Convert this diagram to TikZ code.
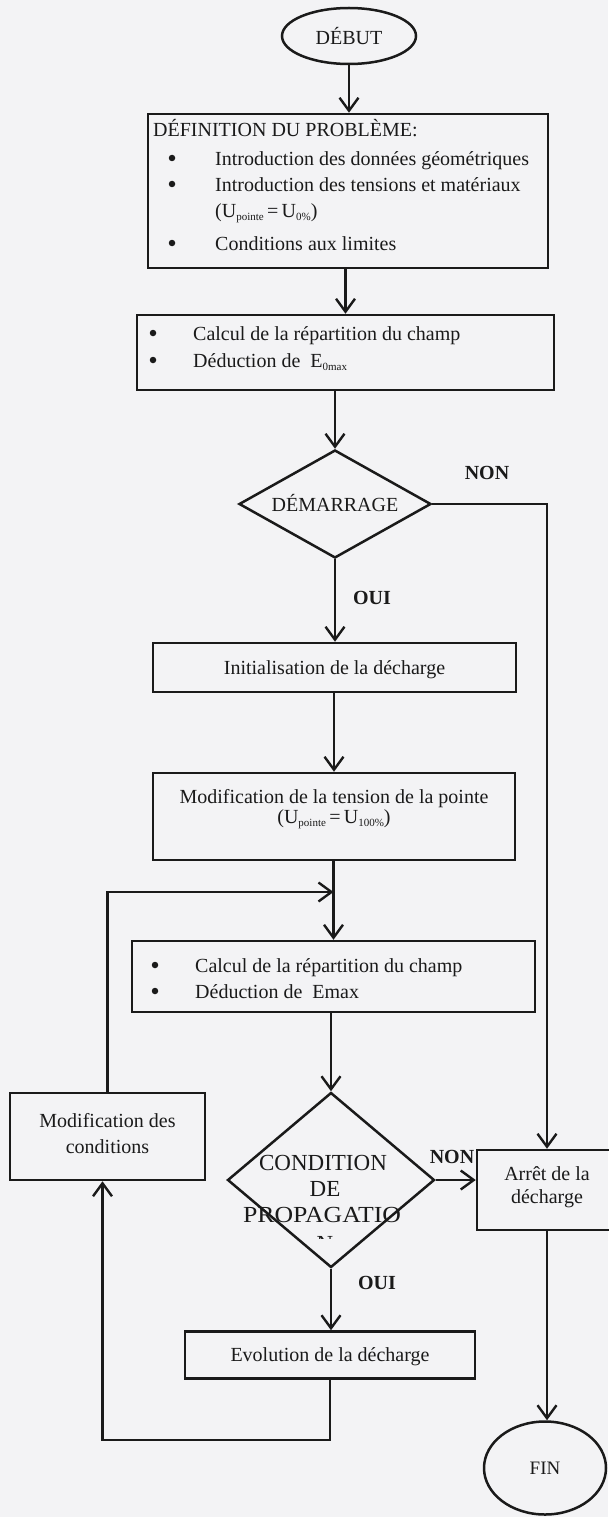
\documentclass[tikz,border=0pt]{standalone}
\usepackage{fontspec}
\setmainfont{Liberation Serif}
\usetikzlibrary{shapes.geometric,arrows.meta}
\definecolor{ink}{RGB}{26,26,26}
\definecolor{paper}{RGB}{243,243,245}
% small lowered index, as in U_pointe
\newcommand{\sbs}[1]{\raisebox{-0.35ex}{\fontsize{11}{11}\selectfont #1}}

\begin{document}
\fontsize{20}{26}\selectfont
\begin{tikzpicture}[x=1pt,y=-1pt,
  box/.style={draw=ink,line width=2.5pt,rectangle,inner sep=0pt},
  oval/.style={draw=ink,line width=2.5pt,ellipse,inner sep=0pt,text=ink},
  choice/.style={draw=ink,line width=2.5pt,diamond,inner sep=0pt},
  flow/.style={draw=ink,line width=2.4pt,-{Straight Barb[length=13pt,width=19pt]}},
  txt/.style={text=ink,inner sep=0pt,anchor=base west},
  ctxt/.style={text=ink,inner sep=0pt,anchor=base},
  dot/.style={circle,fill=ink,inner sep=0pt,minimum size=6.5pt},
  lbl/.style={text=ink,inner sep=0pt,font=\bfseries}]

\fill[paper] (0,0) rectangle (608,1517);
\useasboundingbox (0,0) rectangle (608,1517);

% start
\node[oval,minimum width=134pt,minimum height=56pt] (debut) at (349,36) {DÉBUT};

% problem definition
\node[box,minimum width=400pt,minimum height=154pt] (pb) at (348,191) {};
\node[txt] (pbT) at (153,137) {DÉFINITION DU PROBLÈME:};
\node[dot] (pbB1) at (172,158) {};
\node[txt] (pb1) at (215,166) {Introduction des données géométriques};
\node[dot] (pbB2) at (172,184) {};
\node[txt] (pb2) at (215,192) {Introduction des tensions et matériaux};
\node[txt] (pb3) at (215,217) {(U\sbs{pointe}\,=\,U\sbs{0\%})};
\node[dot] (pbB4) at (172,243) {};
\node[txt] (pb4) at (215,250) {Conditions aux limites};

% first field computation
\node[box,minimum width=417pt,minimum height=75pt] (calc1) at (345.5,352.5) {};
\node[dot] (c1B1) at (153,333) {};
\node[txt] (c1a) at (193,340) {Calcul de la répartition du champ};
\node[dot] (c1B2) at (153,360) {};
\node[txt] (c1b) at (193,367) {Déduction de\ \ E\sbs{0max}};

% start-up test
\node[choice,minimum width=192pt,minimum height=108pt] (dem) at (335,504) {};
\node[ctxt] (demT) at (335,511) {DÉMARRAGE};
\node[lbl] (non1) at (487,473) {NON};
\node[lbl] (oui1) at (372,598) {OUI};

% initialisation
\node[box,minimum width=363pt,minimum height=49pt] (init) at (334.5,667.5) {};
\node[ctxt] (initT) at (334.5,674) {Initialisation de la décharge};

% tip voltage
\node[box,minimum width=362pt,minimum height=87pt] (tens) at (334,816.5) {};
\node[ctxt] (tensA) at (334,803) {Modification de la tension de la pointe};
\node[ctxt] (tensB) at (334,823) {(U\sbs{pointe}\,=\,U\sbs{100\%})};

% second field computation
\node[box,minimum width=403pt,minimum height=71pt] (calc2) at (333.5,976.5) {};
\node[dot] (c2B1) at (155,965) {};
\node[txt] (c2a) at (195,972) {Calcul de la répartition du champ};
\node[dot] (c2B2) at (155,991) {};
\node[txt] (c2b) at (195,998) {Déduction de\ \ Emax};

% change of conditions
\node[box,minimum width=195pt,minimum height=87pt] (modif) at (107.5,1136.5) {};
\node[ctxt] (modifA) at (107.5,1127) {Modification des};
\node[ctxt] (modifB) at (107.5,1153) {conditions};

% propagation test
\node[choice,minimum width=207pt,minimum height=175pt] (prop) at (331,1180) {};
\begin{scope}[font=\fontsize{23}{27}\selectfont]
\node[ctxt] (propA) at (323,1170) {CONDITION};
\node[ctxt] (propB) at (325,1196) {DE};
\node[ctxt] (propC) at (322,1222) {\scalebox{1.12}[1]{PROPAGATIO}};
\begin{scope}
\clip (280,1215) rectangle (380,1238);
\node[ctxt] (propD) at (325,1251) {N};
\end{scope}
\end{scope}
\node[lbl] (non2) at (452,1157) {NON};
\node[lbl] (oui2) at (377,1283) {OUI};

% stop
\node[box,minimum width=140pt,minimum height=80pt] (arret) at (547,1190) {};
\node[ctxt] (arretA) at (547,1180) {Arrêt de la};
\node[ctxt] (arretB) at (547,1203) {décharge};

% evolution
\node[box,minimum width=290pt,minimum height=47pt] (evo) at (330,1355) {};
\node[ctxt] (evoT) at (330,1361) {Evolution de la décharge};

% end
\node[oval,minimum width=122pt,minimum height=93pt,font=\fontsize{19}{22}\selectfont] (fin) at (545,1468) {FIN};

% connectors
\coordinate (yfb) at (0,892);
\coordinate (yloop) at (0,1440);
\coordinate (join) at (calc2.north |- yfb);
\coordinate (mfoot) at ([xshift=-5pt]modif.south);
\coordinate (loopL) at (mfoot |- yloop);

\draw[flow] (debut.south) -- (debut.south |- pb.north);
\draw[flow] (pb.south -| calc1.north) -- (calc1.north);
\draw[flow] (calc1.south -| dem.north) -- (dem.north);
\draw[flow] (dem.south) -- (dem.south |- init.north);
\draw[flow] (init.south -| tens.north) -- (tens.north);
\draw[flow] (tens.south -| calc2.north) -- (calc2.north);
\draw[flow] (modif.north) |- (join);
\draw[flow] (calc2.south -| prop.north) -- (prop.north);
\draw[flow] (dem.east) -| (arret.north);
\draw[flow] (prop.east) -- (prop.east -| arret.west);
\draw[flow] (prop.south) -- (prop.south |- evo.north);
\draw[flow] (evo.south) |- (loopL) -- (mfoot);
\draw[flow] (arret.south) -- (arret.south |- fin.north);
\end{tikzpicture}
\end{document}
